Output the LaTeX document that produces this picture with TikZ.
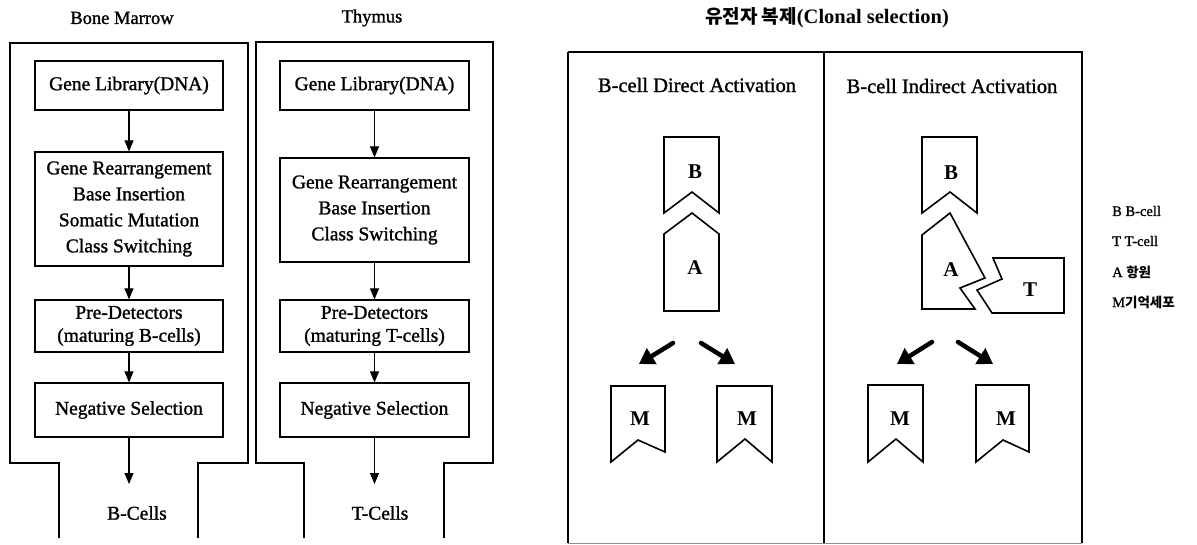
\documentclass[tikz,border=0pt]{standalone}
\usepackage{fontspec}
\setmainfont{Liberation Serif}[UprightFeatures={FakeBold=1.2}]
\newfontfamily\krfont{Noto Sans CJK KR}
\usetikzlibrary{arrows.meta}
\begin{document}
\begin{tikzpicture}[x=1pt,y=-1pt,
  panel/.style={line width=1.5pt,line join=miter},
  stagebox/.style={draw,line width=1.2pt,inner sep=0pt,align=center,minimum width=188pt},
  stagetext/.style={font=\fontsize{19.5}{26}\selectfont},
  flow/.style={line width=1.1pt,-{Triangle[length=11pt,width=9pt]}},
  fat/.style={line width=4.5pt,line cap=round,-{Triangle[length=15pt,width=18pt]}},
  cellshape/.style={line width=1.6pt,line join=miter},
  cellname/.style={font=\fontsize{21}{21}\selectfont\bfseries,inner sep=0pt},
  ttl/.style={font=\fontsize{18.5}{20}\selectfont,inner sep=0pt},
  subttl/.style={font=\fontsize{20.5}{22}\selectfont,inner sep=0pt},
  legend/.style={font=\fontsize{14.5}{16}\selectfont,inner sep=0pt,anchor=west}]
\useasboundingbox[fill=white] (0,0) rectangle (1197,545);

% ---------- Bone Marrow ----------
\node[ttl] (bmt) at (122,18) {Bone Marrow};
\draw[panel] (59,538) -- (59,463) -- (10,463) -- (10,43) -- (248,43) -- (248,463) -- (198,463) -- (198,538);
\node[stagebox,stagetext,minimum height=49pt] (bm1) at (129,85.5) {Gene Library(DNA)};
\node[stagebox,stagetext,minimum height=114pt] (bm2) at (129,209) {Gene Rearrangement\\Base Insertion\\Somatic Mutation\\Class Switching};
\node[stagebox,minimum height=52pt,font=\fontsize{19.5}{23}\selectfont] (bm3) at (129,326) {Pre-Detectors\\(maturing B-cells)};
\node[stagebox,stagetext,minimum height=54pt] (bm4) at (129,410) {Negative Selection};
\coordinate (bmout) at (129,484);
\node[stagetext,inner sep=0pt] (bcells) at (137,513) {B-Cells};
\draw[flow] (bm1) -- (bm2);
\draw[flow] (bm2) -- (bm3);
\draw[flow] (bm3) -- (bm4);
\draw[flow] (bm4) -- (bmout);

% ---------- Thymus ----------
\node[ttl] (tht) at (372,18) {Thymus};
\draw[panel] (304,538) -- (304,463) -- (256,463) -- (256,42) -- (493,42) -- (493,463) -- (444,463) -- (444,538);
\node[stagebox,stagetext,minimum width=189pt,minimum height=49pt] (th1) at (374.5,85.5) {Gene Library(DNA)};
\node[stagebox,stagetext,minimum width=189pt,minimum height=104pt] (th2) at (374.5,210) {Gene Rearrangement\\Base Insertion\\Class Switching};
\node[stagebox,minimum width=189pt,minimum height=52pt,font=\fontsize{19.5}{23}\selectfont] (th3) at (374.5,326) {Pre-Detectors\\(maturing T-cells)};
\node[stagebox,stagetext,minimum width=189pt,minimum height=54pt] (th4) at (374.5,410) {Negative Selection};
\coordinate (thout) at (374.5,484);
\node[stagetext,inner sep=0pt] (tcells) at (380,513) {T-Cells};
\draw[flow] (th1) -- (th2);
\draw[flow] (th2) -- (th3);
\draw[flow] (th3) -- (th4);
\draw[flow] (th4) -- (thout);

% ---------- Clonal selection ----------
\node[inner sep=0pt] (cst) at (827,18) {{\krfont\bfseries\fontsize{19}{20}\selectfont 유전자 복제}{\fontsize{20.5}{20}\selectfont\bfseries(Clonal selection)}};
\draw[panel] (568,52) -- (568,543);
\draw[panel] (568,52) -- (1082,52) -- (1082,543);
\draw[panel] (824,52) -- (824,543);
\draw[line width=1pt,black!45] (568,543) -- (1082,543);
\node[subttl] (dat) at (697,85) {B-cell Direct Activation};
\node[subttl] (iat) at (952,86) {B-cell Indirect Activation};

% direct activation
\draw[cellshape] (664,137) -- (719,137) -- (719,213) -- (692,192) -- (664,213) -- cycle;
\node[cellname] (dB) at (695,172) {B};
\draw[cellshape] (692,213) -- (719,234) -- (719,311) -- (664,311) -- (664,234) -- cycle;
\node[cellname] (dA) at (695,268) {A};
\coordinate (dl1) at (673,343); \coordinate (dl2) at (639,364);
\coordinate (dr1) at (701,343); \coordinate (dr2) at (735,364);
\draw[fat] (dl1) -- (dl2);
\draw[fat] (dr1) -- (dr2);
\draw[cellshape] (611,386) -- (665,386) -- (665,452) -- (638,440) -- (611,462) -- cycle;
\node[cellname] (dM1) at (640,419) {M};
\draw[cellshape] (717,386) -- (772,386) -- (772,462) -- (745,439) -- (717,462) -- cycle;
\node[cellname] (dM2) at (747,419) {M};

% indirect activation
\draw[cellshape] (922,137) -- (977,137) -- (977,213) -- (950,192) -- (922,213) -- cycle;
\node[cellname] (iB) at (951,173) {B};
\draw[cellshape] (922,309) -- (922,235) -- (950,213) -- (985,278) -- (960,288) -- (975,309) -- cycle;
\node[cellname] (iA) at (951,270) {A};
\draw[cellshape] (993,258) -- (1064,258) -- (1064,313) -- (992,313) -- (977,290) -- (1002,279) -- cycle;
\node[cellname] (iT) at (1030,290) {T};
\coordinate (il1) at (932,342); \coordinate (il2) at (897,364);
\coordinate (ir1) at (958,342); \coordinate (ir2) at (993,364);
\draw[fat] (il1) -- (il2);
\draw[fat] (ir1) -- (ir2);
\draw[cellshape] (868,385) -- (923,385) -- (923,462) -- (896,439) -- (868,462) -- cycle;
\node[cellname] (iM1) at (900,419) {M};
\draw[cellshape] (976,385) -- (1029,385) -- (1029,452) -- (1003,440) -- (976,462) -- cycle;
\node[cellname] (iM2) at (1006,419) {M};

% legend
\node[legend] (lgB) at (1112,211) {B B-cell};
\node[legend] (lgT) at (1112,241) {T T-cell};
\node[legend] (lgA) at (1112,272) {A {\krfont\bfseries\fontsize{13.5}{16}\selectfont 항원}};
\node[legend] (lgM) at (1112,302) {M{\krfont\bfseries\fontsize{13.5}{16}\selectfont 기억세포}};
\end{tikzpicture}
\end{document}
